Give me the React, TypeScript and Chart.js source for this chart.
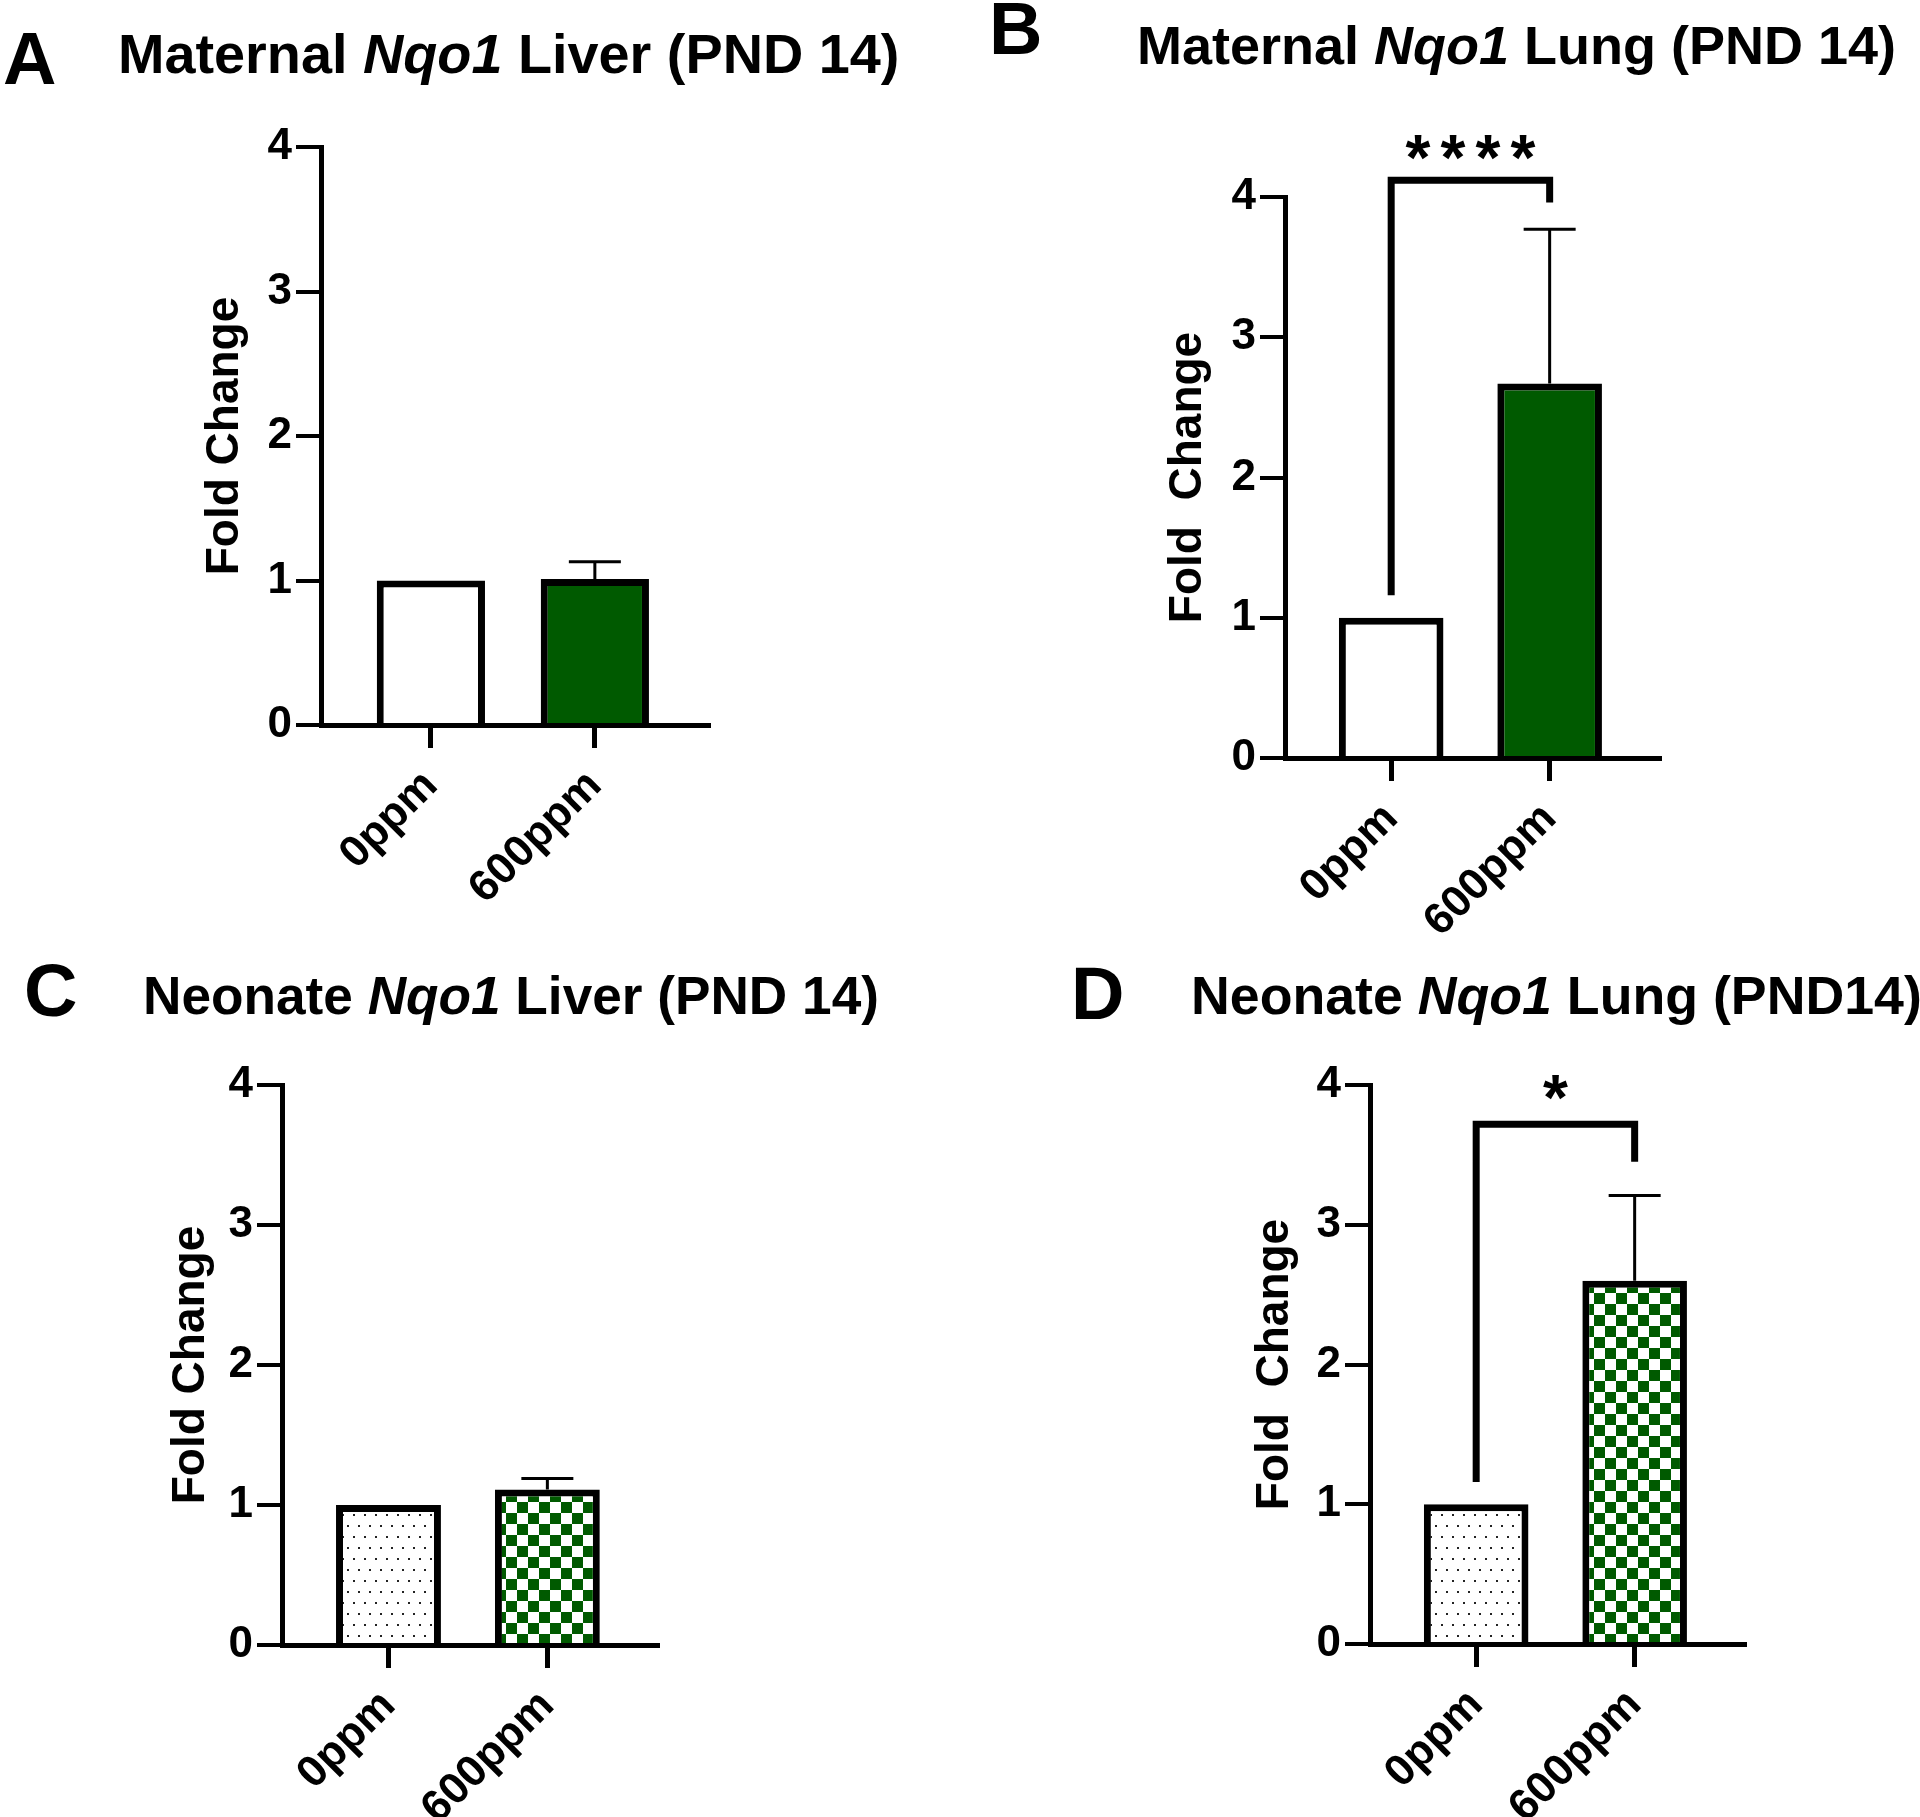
import React, { useEffect, useRef } from 'react';
import { Chart, registerables } from 'chart.js';

Chart.register(...registerables);

const FONT = '"Liberation Sans", Arial, Helvetica, sans-serif';
const GREEN = '#005a00';

// ---- data ----
const CATEGORIES = ['0ppm', '600ppm'];
const Y_TICKS = [0, 1, 2, 3, 4];

const MATERNAL_LIVER_MEAN = [1.0, 1.01];
const MATERNAL_LIVER_SD = [0, 0.12];
const MATERNAL_LUNG_MEAN = [1.0, 2.67];
const MATERNAL_LUNG_SD = [0, 1.1];
const NEONATE_LIVER_MEAN = [1.0, 1.11];
const NEONATE_LIVER_SD = [0, 0.08];
const NEONATE_LUNG_MEAN = [1.0, 2.6];
const NEONATE_LUNG_SD = [0, 0.61];

const MATERNAL_LUNG_SIG = { text: '****', from: 1.16, top: 4.12, to: 3.96, labelAt: 4.37 };
const NEONATE_LUNG_SIG = { text: '*', from: 1.16, top: 3.72, to: 3.45, labelAt: 4.0 };

type Sig = { text: string; from: number; top: number; to: number; labelAt: number };

type PanelCfg = {
  id: string;
  letter: string;
  letterPos: [number, number];
  titlePre: string;
  gene: string;
  titlePost: string;
  titlePos: [number, number];
  titleFs: number;
  axis: { left: number; right: number; top: number; bottom: number };
  yTitle: string;
  yTitleOffset: number;
  means: number[];
  sd: number[];
  patterned: boolean;
  sig?: Sig;
};

const PANELS: PanelCfg[] = [
  {
    id: 'A', letter: 'A', letterPos: [3, 85],
    titlePre: 'Maternal ', gene: 'Nqo1', titlePost: ' Liver (PND 14)', titlePos: [118, 73], titleFs: 55.8,
    axis: { left: 321, right: 708, top: 147, bottom: 725 },
    yTitle: 'Fold Change', yTitleOffset: 96,
    means: MATERNAL_LIVER_MEAN, sd: MATERNAL_LIVER_SD, patterned: false,
  },
  {
    id: 'B', letter: 'B', letterPos: [989, 55],
    titlePre: 'Maternal ', gene: 'Nqo1', titlePost: ' Lung (PND 14)', titlePos: [1137, 64], titleFs: 54,
    axis: { left: 1285, right: 1659, top: 197, bottom: 758 },
    yTitle: 'Fold  Change', yTitleOffset: 97,
    means: MATERNAL_LUNG_MEAN, sd: MATERNAL_LUNG_SD, patterned: false, sig: MATERNAL_LUNG_SIG,
  },
  {
    id: 'C', letter: 'C', letterPos: [24, 1017],
    titlePre: 'Neonate ', gene: 'Nqo1', titlePost: ' Liver (PND 14)', titlePos: [143, 1014], titleFs: 53.2,
    axis: { left: 282, right: 657, top: 1085, bottom: 1645 },
    yTitle: 'Fold Change', yTitleOffset: 91,
    means: NEONATE_LIVER_MEAN, sd: NEONATE_LIVER_SD, patterned: true,
  },
  {
    id: 'D', letter: 'D', letterPos: [1071, 1020],
    titlePre: 'Neonate ', gene: 'Nqo1', titlePost: ' Lung (PND14)', titlePos: [1191, 1014], titleFs: 53.7,
    axis: { left: 1370, right: 1744, top: 1085, bottom: 1644 },
    yTitle: 'Fold  Change', yTitleOffset: 95,
    means: NEONATE_LUNG_MEAN, sd: NEONATE_LUNG_SD, patterned: true, sig: NEONATE_LUNG_SIG,
  },
];

const YW = 150; // y-axis box width
const PT = 100; // top padding
const PR = 20; // right padding
const XH = 200; // x-axis box height

function dotPattern(ctx: CanvasRenderingContext2D) {
  const c = document.createElement('canvas');
  c.width = 11;
  c.height = 22;
  const g = c.getContext('2d')!;
  g.fillStyle = '#ffffff';
  g.fillRect(0, 0, 11, 22);
  g.fillStyle = '#222222';
  g.fillRect(1, 1, 2, 2);
  g.fillRect(6, 12, 2, 2);
  return ctx.createPattern(c, 'repeat')!;
}

function checkPattern(ctx: CanvasRenderingContext2D) {
  const c = document.createElement('canvas');
  c.width = 22;
  c.height = 22;
  const g = c.getContext('2d')!;
  g.fillStyle = '#ffffff';
  g.fillRect(0, 0, 22, 22);
  g.fillStyle = GREEN;
  g.fillRect(0, 0, 11, 11);
  g.fillRect(11, 11, 11, 11);
  return ctx.createPattern(c, 'repeat')!;
}

function Panel({ cfg }: { cfg: PanelCfg }) {
  const ref = useRef<HTMLCanvasElement>(null);
  const { axis } = cfg;
  const cw = YW + (axis.right - axis.left) + PR;
  const ch = PT + (axis.bottom - axis.top) + XH;
  const cl = axis.left - YW;
  const ct = axis.top - PT;

  useEffect(() => {
    const canvas = ref.current!;
    const ctx = canvas.getContext('2d')!;
    const bg = cfg.patterned ? [dotPattern(ctx), checkPattern(ctx)] : ['#ffffff', GREEN];

    const errPlugin = {
      id: 'errbars' + cfg.id,
      afterDatasetsDraw(chart: any) {
        const c = chart.ctx;
        const xs = chart.scales.x;
        const ys = chart.scales.y;
        c.save();
        c.strokeStyle = '#000';
        c.lineWidth = 3;
        c.lineCap = 'butt';
        cfg.means.forEach((m, i) => {
          const e = cfg.sd[i];
          if (!e) return;
          const x = xs.getPixelForValue(i);
          const y0 = ys.getPixelForValue(m);
          const y1 = ys.getPixelForValue(m + e);
          c.beginPath();
          c.moveTo(x, y0);
          c.lineTo(x, y1);
          c.moveTo(x - 26, y1);
          c.lineTo(x + 26, y1);
          c.stroke();
        });
        c.restore();
      },
    };

    const sigPlugin = {
      id: 'sig' + cfg.id,
      afterDraw(chart: any) {
        const s = cfg.sig;
        if (!s) return;
        const c = chart.ctx;
        const xs = chart.scales.x;
        const ys = chart.scales.y;
        const xl = xs.getPixelForValue(0);
        const xr = xs.getPixelForValue(1);
        c.save();
        c.strokeStyle = '#000';
        c.lineWidth = 7;
        c.lineJoin = 'miter';
        c.lineCap = 'butt';
        c.beginPath();
        c.moveTo(xl, ys.getPixelForValue(s.from));
        c.lineTo(xl, ys.getPixelForValue(s.top));
        c.lineTo(xr, ys.getPixelForValue(s.top));
        c.lineTo(xr, ys.getPixelForValue(s.to));
        c.stroke();
        c.fillStyle = '#000';
        c.font = `bold 64px ${FONT}`;
        c.textAlign = 'center';
        c.textBaseline = 'alphabetic';
        const mid = (xl + xr) / 2;
        const yc = ys.getPixelForValue(s.labelAt);
        const n = s.text.length;
        for (let k = 0; k < n; k++) {
          c.fillText(s.text[k], mid + (k - (n - 1) / 2) * 35, yc + 35);
        }
        c.restore();
      },
    };

    const chart = new Chart(canvas, {
      type: 'bar',
      data: {
        datasets: [
          {
            data: cfg.means.map((v, i) => ({ x: i, y: v })),
            backgroundColor: bg as any,
            borderColor: '#000000',
            borderWidth: 7,
            borderSkipped: 'start',
            barPercentage: 0.66,
            categoryPercentage: 1,
          },
        ],
      },
      options: {
        animation: false,
        responsive: false,
        devicePixelRatio: 1,
        layout: { padding: { top: PT, right: PR, left: 0, bottom: 0 } },
        plugins: { legend: { display: false }, tooltip: { enabled: false }, title: { display: false } },
        scales: {
          x: {
            type: 'linear',
            offset: false,
            min: -0.67,
            max: 1.69,
            z: 1,
            afterBuildTicks: (s: any) => {
              s.ticks = CATEGORIES.map((_, i) => ({ value: i }));
            },
            afterFit: (s: any) => {
              s.height = XH;
              s.paddingLeft = 0;
              s.paddingRight = 0;
            },
            ticks: {
              autoSkip: false,
              minRotation: 45,
              maxRotation: 45,
              padding: 12,
              color: '#000',
              font: { family: FONT, size: 44, weight: 'bold' },
              callback: (v: any) => CATEGORIES[Math.round(Number(v))] ?? '',
            },
            grid: {
              offset: false,
              drawOnChartArea: false,
              drawTicks: true,
              tickLength: 23,
              lineWidth: 5,
              color: '#000',
            },
            border: { display: true, width: 5, color: '#000' },
          },
          y: {
            type: 'linear',
            min: Y_TICKS[0],
            max: Y_TICKS[Y_TICKS.length - 1],
            afterBuildTicks: (s: any) => {
              s.ticks = Y_TICKS.map((v) => ({ value: v }));
            },
            afterFit: (s: any) => {
              s.width = YW;
              s.paddingTop = 0;
              s.paddingBottom = 0;
            },
            ticks: {
              padding: 4,
              color: '#000',
              font: { family: FONT, size: 44, weight: 'bold' },
              callback: (v: any) => String(v),
            },
            grid: { drawOnChartArea: false, drawTicks: true, tickLength: 25, lineWidth: 4, color: '#000' },
            border: { display: true, width: 5, color: '#000' },
            title: {
              display: true,
              text: cfg.yTitle,
              color: '#000',
              font: { family: FONT, size: 46, weight: 'bold' },
              padding: { top: YW - 27.6 - cfg.yTitleOffset, bottom: 0 },
            },
          },
        },
      } as any,
      plugins: [errPlugin, sigPlugin],
    });
    return () => chart.destroy();
  }, [cfg]);

  const letterFs = 74;
  const titleFs = cfg.titleFs;
  return (
    <>
      <div
        style={{
          position: 'absolute',
          left: cfg.letterPos[0],
          top: cfg.letterPos[1] - 0.8465 * letterFs,
          fontSize: letterFs,
          lineHeight: 1,
          fontWeight: 'bold',
          fontFamily: FONT,
          color: '#000',
          whiteSpace: 'pre',
        }}
      >
        {cfg.letter}
      </div>
      <div
        style={{
          position: 'absolute',
          left: cfg.titlePos[0],
          top: cfg.titlePos[1] - 0.8465 * titleFs,
          fontSize: titleFs,
          lineHeight: 1,
          fontWeight: 'bold',
          fontFamily: FONT,
          color: '#000',
          whiteSpace: 'pre',
        }}
      >
        {cfg.titlePre}
        <i>{cfg.gene}</i>
        {cfg.titlePost}
      </div>
      <canvas
        ref={ref}
        width={cw}
        height={ch}
        style={{ position: 'absolute', left: cl, top: ct, width: cw, height: ch }}
      />
    </>
  );
}

export default function App() {
  return (
    <div
      style={{
        position: 'absolute',
        left: 0,
        top: 0,
        width: 1920,
        height: 1817,
        background: '#ffffff',
        overflow: 'hidden',
      }}
    >
      {PANELS.map((p) => (
        <Panel key={p.id} cfg={p} />
      ))}
    </div>
  );
}
